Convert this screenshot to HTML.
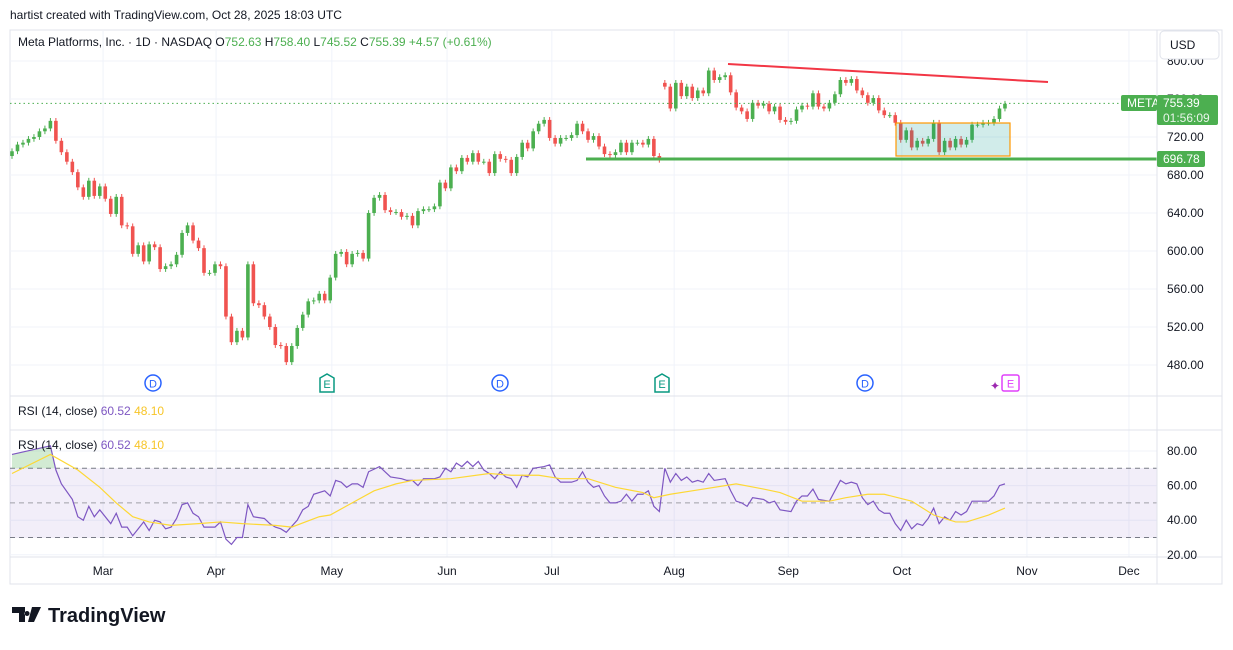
<!DOCTYPE html>
<html><head><meta charset="utf-8"><style>
body{margin:0;background:#fff;width:1233px;height:645px;overflow:hidden;font-family:"Liberation Sans",sans-serif}
svg text{font-family:"Liberation Sans",sans-serif}
</style></head><body>
<svg id="c" width="1233" height="645" viewBox="0 0 1233 645" xmlns="http://www.w3.org/2000/svg">
<text x="10" y="19" font-size="12" fill="#131722">hartist created with TradingView.com, Oct 28, 2025 18:03 UTC</text>
<rect x="10" y="30" width="1212" height="554" fill="#fff" stroke="#e0e3eb"/>
<g id="grid"></g>
<rect x="10" y="468" width="1147" height="70" fill="#7e57c2" fill-opacity="0.1"/>
<g id="rsiLines"></g>
<g id="candles"></g>
<g id="rsi"></g>
<g id="draw"></g>
<g id="axes"></g>
<text x="18" y="46" font-size="12" fill="#131722">Meta Platforms, Inc. · 1D · NASDAQ  O<tspan fill="#4caf50">752.63</tspan>  H<tspan fill="#4caf50">758.40</tspan>  L<tspan fill="#4caf50">745.52</tspan>  C<tspan fill="#4caf50">755.39  +4.57 (+0.61%)</tspan></text>
<text x="18" y="415" font-size="12" fill="#131722">RSI (14, close) <tspan fill="#7e57c2">60.52</tspan> <tspan fill="#f7c528">48.10</tspan></text>
<text x="18" y="449" font-size="12" fill="#131722">RSI (14, close) <tspan fill="#7e57c2">60.52</tspan> <tspan fill="#f7c528">48.10</tspan></text>
<rect x="1160" y="31" width="59" height="28" rx="4" fill="#fff" stroke="#e0e3eb"/>
<text x="1170" y="49" font-size="12" fill="#131722">USD</text>
<g>
<path d="M12 607h13v15h-6v-9h-7z M27 611a2.5 2.5 0 1 0 0.1 0z M32 607h9l-7 15h-6z" fill="#131722"/>
<text x="48" y="622" font-size="20" font-weight="bold" fill="#131722">TradingView</text>
</g>
</svg>
<script>
const closes=[705,712,714,718,720,726,729,737,716,704,694,683,667,657,674,658,668,655,639,657,627,626,597,606,589,607,604,581,584,586,596,619,627,611,603,577,577,586,584,531,504,516,509,586,545,543,531,520,501,500,483,500,519,533,547,548,555,548,572,597,599,586,597,598,592,640,656,659,643,641,
641,636,637,627,642,644,644,647,672,666,688,684,698,694,703,694,694,682,702,697,696,682,699,714,708,726,734,738,719,713,719,719,722,734,726,717,721,710,702,701,704,714,704,714,714,712,718,700,696,
773,750,777,763,773,761,769,766,790,780,783,785,767,751,747,739,756,753,755,747,752,
738,736,737,749,753,752,766,752,750,756,765,780,777,781,769,764,756,761,748,743,743,735,717,727,709,716,713,718,735,704,716,709,718,712,717,733,733,735,735,739,750,755];
const gapOpenDay=[119];
const gapOpenVal=[777];
const rsiDay=[0,7,8,9,11,12,13,14,15,16,18,19,20,21,22,23,24,25,26,27,28,29,30,31,32,33,34,35,37,38,39,40,41,42,43,44,46,47,48,49,50,52,53,54,55,57,58,59,60,61,62,63,64,65,67,68,69,71,72,73,74,75,77,78,79,80,81,82,83,84,85,86,87,88,89,90,91,92,93,94,95,97,98,99,100,101,102,103,104,105,106,107,108,109,110,111,112,113,114,115,116,117,118,119,120,121,122,123,124,125,126,127,128,130,131,132,133,134,135,137,138,139,140,142,143,144,145,146,147,149,150,151,152,153,154,155,156,157,158,159,160,161,162,163,164,165,166,167,168,169,170,171,172,173,174,175,178,179,180,181];
const rsiVal=[78,83,69,61,52,42,40,48,42,46,38,44,36,36,31,35,39,34,40,39,35,36,41,49,50,44,42,36,36,39,29,26,30,30,49,42,41,38,36,35,33,40,46,48,55,57,54,63,62,59,61,61,59,68,71,68,65,64,63,63,60,64,64,65,70,68,73,71,74,71,74,69,67,64,68,65,64,59,66,65,70,71,72,65,62,62,62,63,68,62,59,60,54,50,50,51,55,51,55,55,57,48,45,70,62,67,63,65,62,63,62,67,63,64,57,51,50,48,53,52,50,51,46,45,51,54,54,58,52,51,57,63,61,62,61,53,49,51,46,44,44,38,34,40,35,38,37,41,47,38,42,40,45,43,45,51,51,54,60,61];
const maDay=[0,7,12,16,19,22,25,29,34,38,42,48,51,56,58,62,66,70,73,80,87,91,96,100,105,110,115,117,120,124,132,137,140,144,149,152,156,159,164,168,172,174,178,181];
const maVal=[67,78,69,59,50,42,39,37,38,39,38,37,36,42,43,50,57,61,63,64,67,66,66,64,64,59,56,53,55,57,61,58,56,51,51,53,55,55,51,43,39,39,43,47];
const priceTicks=[800,760,720,680,640,600,560,520,480];
const rsiTicks=[80,60,40,20];
const months=["Mar","Apr","May","Jun","Jul","Aug","Sep","Oct","Nov","Dec"];
const monthDay=[16.6,37.2,58.3,79.3,98.4,120.7,141.5,162.2,185.0,203.6];
const NS="http://www.w3.org/2000/svg";
const X=i=>12+i*5.486;
const PY=p=>61+(800-p)*0.95;
const RY=v=>451+(80-v)*1.73;
function mk(t,a,parent){const e=document.createElementNS(NS,t);for(const k in a)e.setAttribute(k,a[k]);parent.appendChild(e);return e;}
const G=id=>document.getElementById(id);
priceTicks.forEach(p=>{const l=mk('line',{x1:10,x2:1157,y1:PY(p),y2:PY(p),stroke:'#f0f3fa'},G('grid'));

});
rsiTicks.forEach(v=>{const l=mk('line',{x1:10,x2:1157,y1:RY(v),y2:RY(v),stroke:'#f0f3fa'},G('grid'));

});
monthDay.forEach(d=>{const l=mk('line',{x1:X(d),x2:X(d),y1:31,y2:557,stroke:'#f0f3fa'},G('grid'));

});
[[396,'pane-separator'],[430,'pane-separator'],[557,'time-axis-border']].forEach(([y,n])=>{const l=mk('line',{x1:10,x2:1222,y1:y,y2:y,stroke:'#e0e3eb'},G('axes'));

});
const pa=mk('line',{x1:1157,x2:1157,y1:30,y2:584,stroke:'#e0e3eb'},G('axes'));


[70,50,30].forEach(v=>{const l=mk('line',{x1:10,x2:1157,y1:RY(v),y2:RY(v),stroke:v==50?'#a0a0a8':'#787b86','stroke-dasharray':'5 4'},G('rsiLines'));

});
const ob=mk('path',{d:`M${X(0)} ${RY(78)} L${X(7)} ${RY(83)} L${X(8)} ${RY(70)} L${X(0)} ${RY(70)}Z`,fill:'#4caf50','fill-opacity':0.25},G('rsiLines'));


closes.forEach((c,i)=>{let o=i?closes[i-1]:700;const gi=gapOpenDay.indexOf(i);if(gi>=0)o=gapOpenVal[gi];const up=c>=o;const col=up?'#4caf50':'#f05350';
const hi=Math.max(o,c)+3,lo=Math.min(o,c)-3;
const w=mk('line',{x1:X(i),x2:X(i),y1:PY(hi),y2:PY(lo),stroke:col},G('candles'));


const top=PY(Math.max(o,c)),h=Math.max(1,Math.abs(PY(o)-PY(c)));
const b=mk('rect',{x:X(i)-1.8,y:top,width:3.6,height:h,fill:col},G('candles'));

});
const rp=mk('polyline',{points:rsiDay.map((d,i)=>X(d)+','+RY(rsiVal[i])).join(' '),fill:'none',stroke:'#7e57c2','stroke-width':1.2},G('rsi'));


const mp=mk('polyline',{points:maDay.map((d,i)=>X(d)+','+RY(maVal[i])).join(' '),fill:'none',stroke:'#fdd835','stroke-width':1.2},G('rsi'));


const dl=mk('line',{x1:10,x2:1157,y1:PY(755.39),y2:PY(755.39),stroke:'#4caf50','stroke-dasharray':'1.5 3'},G('draw'));


const tl=mk('line',{x1:728,y1:64,x2:1048,y2:82,stroke:'#f23645','stroke-width':2},G('draw'));


const sl=mk('line',{x1:586,y1:PY(696.78),x2:1157,y2:PY(696.78),stroke:'#4caf50','stroke-width':3},G('draw'));


const bx=mk('rect',{x:896,y:123,width:114,height:33,fill:'#009688','fill-opacity':0.18,stroke:'#ff9800','stroke-width':1.2},G('draw'));


priceTicks.forEach(p=>{const t=mk('text',{x:1167,y:PY(p)+4,'font-size':12,fill:'#131722'},G('axes'));t.textContent=p.toFixed(2);

});
rsiTicks.forEach(v=>{const t=mk('text',{x:1167,y:RY(v)+4,'font-size':12,fill:'#131722'},G('axes'));t.textContent=v.toFixed(2);

});
months.forEach((m,i)=>{const t=mk('text',{x:X(monthDay[i]),y:575,'font-size':12,fill:'#131722','text-anchor':'middle'},G('axes'));t.textContent=m;

});
function tag(x,y,w,h,txt,n){const r=mk('rect',{x:x,y:y,width:w,height:h,rx:2,fill:'#4caf50'},G('axes'));


txt.forEach((s,k)=>{const t=mk('text',{x:x+6,y:y+12+k*15,'font-size':12,fill:k?'#e8f5e9':'#fff'},G('axes'));t.textContent=s;

});}
tag(1121,95,36,16,['META'],'symbol-tag');
tag(1157,95,61,30,['755.39','01:56:09'],'last-price-tag');
tag(1157,151,48,16,['696.78'],'support-price-tag');
function circ(x,n){const c=mk('circle',{cx:x,cy:383,r:8,fill:'#fff',stroke:'#2962ff','stroke-width':1.5},G('axes'));


const t=mk('text',{x:x,y:387.5,'font-size':11,fill:'#2962ff','text-anchor':'middle'},G('axes'));t.textContent='D';

}
function earn(x,col,n){const p=mk('path',{d:`M${x-7} 378 L${x} 374 L${x+7} 378 L${x+7} 392 L${x-7} 392Z`,fill:'#fff',stroke:col,'stroke-width':1.5},G('axes'));


const t=mk('text',{x:x,y:388,'font-size':11,fill:col,'text-anchor':'middle'},G('axes'));t.textContent='E';

}
circ(153,'dividend-marker');circ(500,'dividend-marker');circ(865,'dividend-marker');
earn(327,'#089981','earnings-marker');earn(662,'#089981','earnings-marker');
const eb=mk('rect',{x:1002,y:375,width:17,height:16,rx:2,fill:'#fff',stroke:'#e040fb','stroke-width':1.5},G('axes'));


const et=mk('text',{x:1010.5,y:387.5,'font-size':11,fill:'#e040fb','text-anchor':'middle'},G('axes'));et.textContent='E';


const sp=mk('text',{x:995,y:390,'font-size':12,fill:'#9c27b0','text-anchor':'middle'},G('axes'));sp.textContent='✦';


</script>
</body></html>
